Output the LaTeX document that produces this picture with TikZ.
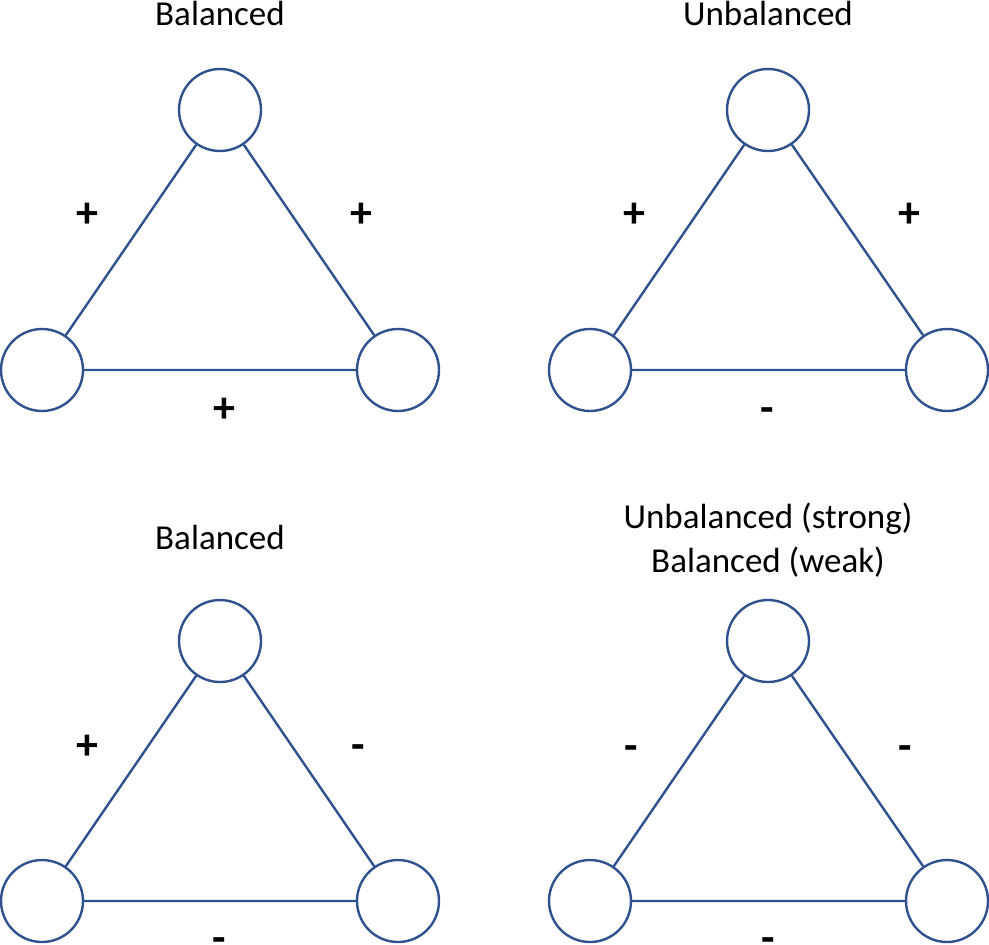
\documentclass[tikz,border=0pt]{standalone}
\usepackage{fontspec}
\setmainfont{Carlito}
\definecolor{edgeblue}{RGB}{47,82,143}
\tikzset{
	vertex/.style={circle, draw=edgeblue, line width=1.2pt, minimum size=41pt, inner sep=0pt},
	edge/.style={draw=edgeblue, line width=1.2pt},
	title/.style={anchor=base, inner sep=0pt, font=\fontsize{17.5}{21}\selectfont},
	sign/.style={anchor=base, inner sep=0pt, font=\fontsize{22}{26}\selectfont\bfseries},
}
\begin{document}
\begin{tikzpicture}[x=0.5pt, y=-0.5pt]
		\useasboundingbox (0,0) rectangle (989,944);
		
		% top left
		\node[title] (titleA) at (220,25) {Balanced};
		\node[vertex] (a1) at (220,110) {};
		\node[vertex] (a2) at (42,370) {};
		\node[vertex] (a3) at (398,370) {};
		\draw[edge] (a1) -- (a2) -- (a3) -- (a1);
		\node[sign] (a12) at (87,227) {+};
		\node[sign] (a13) at (361,227) {+};
		\node[sign] (a23) at (224,422) {+};
		
		% top right
		\node[title] (titleB) at (768,25) {Unbalanced};
		\node[vertex] (b1) at (768,110) {};
		\node[vertex] (b2) at (590,370) {};
		\node[vertex] (b3) at (947,370) {};
		\draw[edge] (b1) -- (b2) -- (b3) -- (b1);
		\node[sign] (b12) at (634,227) {+};
		\node[sign] (b13) at (909,227) {+};
		\node[sign] (b23) at (767,422) {-};
		
		% bottom left
		\node[title] (titleC) at (220,549) {Balanced};
		\node[vertex] (c1) at (220,641) {};
		\node[vertex] (c2) at (42,901) {};
		\node[vertex] (c3) at (398,901) {};
		\draw[edge] (c1) -- (c2) -- (c3) -- (c1);
		\node[sign] (c12) at (87,759) {+};
		\node[sign] (c13) at (358,759) {-};
		\node[sign] (c23) at (219,952) {-};
		
		% bottom right
		\node[title] (titleD) at (768,528) {Unbalanced (strong)};
		\node[title] (titleDw) at (768,572) {Balanced (weak)};
		\node[vertex] (d1) at (768,641) {};
		\node[vertex] (d2) at (590,901) {};
		\node[vertex] (d3) at (947,901) {};
		\draw[edge] (d1) -- (d2) -- (d3) -- (d1);
		\node[sign] (d12) at (631,760) {-};
		\node[sign] (d13) at (905,760) {-};
		\node[sign] (d23) at (768,952) {-};
\end{tikzpicture}
\end{document}
